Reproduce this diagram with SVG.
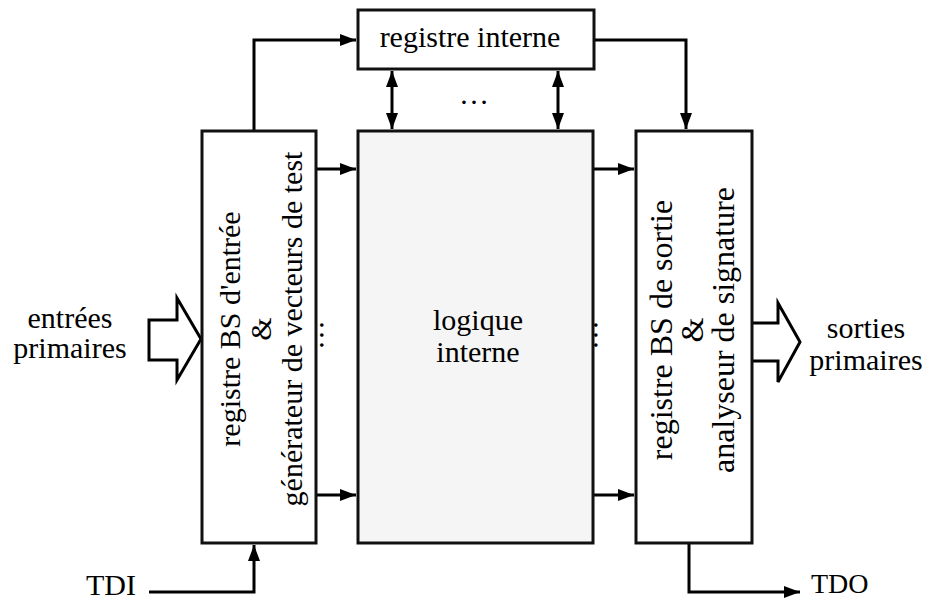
<svg xmlns="http://www.w3.org/2000/svg" width="929" height="601" viewBox="0 0 929 601" font-family="'Liberation Serif', 'Times New Roman', 'DejaVu Serif', serif">
<style>
.box{fill:#fff;stroke:#111;stroke-width:3}
.core{fill:#f5f5f5;stroke:#111;stroke-width:3}
.t{font-family:'Liberation Serif','DejaVu Serif',serif;font-size:30px;fill:#000;text-anchor:middle}
.c{fill:none;stroke:#000;stroke-width:3}
.hollow{fill:#fff;stroke:#000;stroke-width:3;stroke-linejoin:miter}
</style>
<defs>
<marker id="ah" markerUnits="userSpaceOnUse" markerWidth="16" markerHeight="12" refX="16" refY="6" orient="auto-start-reverse">
<path d="M0,0 L16,6 L0,12 z" fill="#000"/>
</marker>
</defs>
<rect width="929" height="601" fill="#fff"/>
<g id="connectors">
<path class="c" d="M254,131 V40 H356" marker-end="url(#ah)"/>
<path class="c" d="M594,40 H686 V129" marker-end="url(#ah)"/>
<line class="c" x1="392" y1="71" x2="392" y2="129" marker-start="url(#ah)" marker-end="url(#ah)"/>
<line class="c" x1="558" y1="71" x2="558" y2="129" marker-start="url(#ah)" marker-end="url(#ah)"/>
<line class="c" x1="316" y1="169" x2="356" y2="169" marker-end="url(#ah)"/>
<line class="c" x1="316" y1="495" x2="356" y2="495" marker-end="url(#ah)"/>
<line class="c" x1="594" y1="169" x2="634" y2="169" marker-end="url(#ah)"/>
<line class="c" x1="594" y1="495" x2="634" y2="495" marker-end="url(#ah)"/>
<path class="c" d="M149,592 H254 V545" marker-end="url(#ah)"/>
<path class="c" d="M689,543 V592 H800" marker-end="url(#ah)"/>
<path class="hollow" d="M149,320 H177 V298 L201,339 L177,380 V360 H149 z"/>
<path class="hollow" d="M752,323 H778 V303 L800,342 L778,382 V361 H752"/>
</g>
<g id="registre-interne">
<rect class="box" x="358" y="10" width="236" height="59"/>
<text class="t" x="470" y="47">registre interne</text>
</g>
<text class="t" x="474" y="104">…</text>
<g id="entree">
<rect class="box" x="202" y="131" width="114" height="412"/>
<g transform="translate(259,329) rotate(-90)">
<text class="t" x="0" y="-19">registre BS d'entrée</text>
<text class="t" x="0" y="12">&amp;</text>
<text class="t" x="0" y="43">générateur de vecteurs de test</text>
</g>
</g>
<g id="logique">
<rect class="core" x="358" y="131" width="235" height="412"/>
<text class="t" x="478" y="330">logique</text>
<text class="t" x="478" y="362">interne</text>
</g>
<g id="sortie">
<rect class="box" x="636" y="131" width="116" height="412"/>
<g transform="translate(694,330) rotate(-90)" style="font-size:32px">
<text class="t" x="0" y="-22" style="font-size:32px">registre BS de sortie</text>
<text class="t" x="0" y="9" style="font-size:32px">&amp;</text>
<text class="t" x="0" y="40" style="font-size:32px">analyseur de signature</text>
</g>
</g>
<g transform="translate(330,335) rotate(90)">
<text class="t" x="0" y="10">…</text>
</g>
<g transform="translate(604,335) rotate(90)">
<text class="t" x="0" y="10">…</text>
</g>
<g id="entrees">
<text class="t" x="70" y="328">entrées</text>
<text class="t" x="70" y="358">primaires</text>
</g>
<g id="sorties">
<text class="t" x="866" y="338">sorties</text>
<text class="t" x="866" y="370">primaires</text>
</g>
<text class="t" x="136" y="595" style="text-anchor:end">TDI</text>
<text class="t" x="811" y="593" style="text-anchor:start;font-size:28px">TDO</text>
</svg>
